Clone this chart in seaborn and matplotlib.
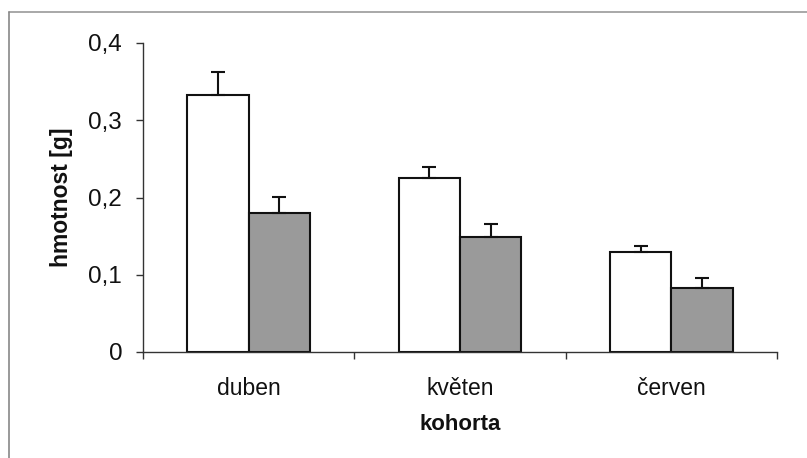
import numpy as np
import pandas as pd
import seaborn as sns
import matplotlib
matplotlib.use("Agg")
import matplotlib.pyplot as plt
from matplotlib.lines import Line2D
from matplotlib.ticker import FuncFormatter, FixedLocator

# --- data ---
kohorty = ["duben", "květen", "červen"]
serie = ["série 1", "série 2"]
hodnoty_1 = [0.333, 0.225, 0.129]
hodnoty_2 = [0.180, 0.149, 0.083]
chyby_1 = [0.0295, 0.0145, 0.008]
chyby_2 = [0.0206, 0.0167, 0.013]
y_ticks = [0, 0.1, 0.2, 0.3, 0.4]

df = pd.DataFrame({
    "kohorta": kohorty * 2,
    "serie": [serie[0]] * 3 + [serie[1]] * 3,
    "hmotnost": hodnoty_1 + hodnoty_2,
})
errs = {serie[0]: chyby_1, serie[1]: chyby_2}

sns.set_style("ticks")
plt.rcParams["font.family"] = ["Liberation Sans", "DejaVu Sans"]

fig = plt.figure(figsize=(8.07, 4.58), dpi=100)
ax = fig.add_axes([143 / 807, 1 - 352 / 458, (777 - 143) / 807, (352 - 43) / 458])

sns.barplot(data=df, x="kohorta", y="hmotnost", hue="serie", order=kohorty,
            hue_order=serie, palette=["#ffffff", "#9a9a9a"], width=0.58,
            gap=0, errorbar=None, edgecolor="#111111", linewidth=1.5,
            legend=False, ax=ax, saturation=1)

for cont, s in zip(ax.containers, serie):
    for bar, e in zip(cont, errs[s]):
        xc = bar.get_x() + bar.get_width() / 2
        h = bar.get_height()
        ax.errorbar([xc], [h], yerr=[[0], [e]], fmt="none", ecolor="#111111",
                    elinewidth=1.5, capsize=5, capthick=1.5, zorder=1)

ax.set_xlim(-0.5, 2.5)
ax.set_ylim(0, 0.4)
ax.set_yticks(y_ticks)
ax.yaxis.set_major_formatter(FuncFormatter(lambda v, p: "0" if v == 0 else f"{v:.1f}".replace(".", ",")))

ax.xaxis.set_minor_locator(FixedLocator([-0.5, 0.5, 1.5, 2.5]))
ax.tick_params(axis="x", which="major", length=0, pad=18, labelsize=16.5, colors="#111111")
ax.tick_params(axis="x", which="minor", length=5, width=1, direction="out", color="#333333")
ax.tick_params(axis="y", which="major", length=5, width=1, direction="out", pad=10,
               labelsize=17.5, colors="#111111")
ax.tick_params(axis="y", colors="#333333")
for lab in ax.get_yticklabels():
    lab.set_color("#111111")

sns.despine(ax=ax, top=True, right=True)
for sp in ["left", "bottom"]:
    ax.spines[sp].set_linewidth(1.0)
    ax.spines[sp].set_color("#333333")

ax.set_xlabel("kohorta", fontsize=16, fontweight="bold", color="#111111")
ax.set_ylabel("hmotnost [g]", fontsize=16.5, fontweight="bold", color="#111111")
ax.xaxis.set_label_coords(0.5, -0.2)
ax.yaxis.set_label_coords(-0.11, 0.5)

# outer chart-area frame (top and left visible)
fig.add_artist(Line2D([9 / 807, 1.0], [1 - 12 / 458, 1 - 12 / 458],
                      transform=fig.transFigure, color="#999999", linewidth=1.2))
fig.add_artist(Line2D([9 / 807, 9 / 807], [0.0, 1 - 12 / 458],
                      transform=fig.transFigure, color="#888888", linewidth=1.2))

fig.savefig("out.png", dpi=100)
